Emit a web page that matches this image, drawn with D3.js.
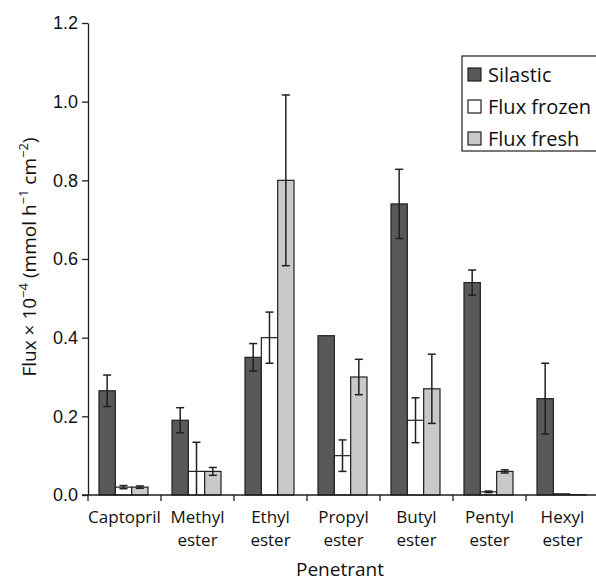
<!DOCTYPE html>
<html>
<head>
<meta charset="utf-8">
<script src="https://cdn.jsdelivr.net/npm/d3@7"></script>
<style>
  body { margin: 0; background: #fff; }
  svg { font-family: "Open Sans", "DejaVu Sans", sans-serif; }
</style>
</head>
<body>
<div id="chart"></div>
<script>
// Data
const categories = ["Captopril", "Methyl ester", "Ethyl ester", "Propyl ester", "Butyl ester", "Pentyl ester", "Hexyl ester"]
const seriesNames = ["Silastic", "Flux frozen", "Flux fresh"]
const silastic    = [0.265, 0.19, 0.35, 0.405, 0.74, 0.54, 0.245]
const silasticErr = [0.04, 0.032, 0.035, 0, 0.088, 0.032, 0.09]
const frozen      = [0.02, 0.06, 0.40, 0.10, 0.19, 0.008, 0.003]
const frozenErr   = [0.004, 0.074, 0.065, 0.04, 0.057, 0.002, 0]
const fresh       = [0.02, 0.06, 0.80, 0.30, 0.27, 0.06, 0.001]
const freshErr    = [0.003, 0.01, 0.217, 0.045, 0.088, 0.004, 0]
const yTicks = [0, 0.2, 0.4, 0.6, 0.8, 1.0, 1.2]

const values = [silastic, frozen, fresh]
const errors = [silasticErr, frozenErr, freshErr]
const colors = ["#58595b", "#ffffff", "#c8c9cb"]
const ink = "#231f20"

var width = 596, height = 582
var margin = {left: 88, top: 23, bottom: 87}
var plotRight = 599

var svg = d3.select("#chart").append("svg")
    .attr("width", width)
    .attr("height", height)

var x = d3.scaleBand()
    .domain(categories)
    .range([margin.left, plotRight])

var xs = d3.scaleBand()
    .domain(seriesNames)
    .range([11, 60])

var y = d3.scaleLinear()
    .domain([0, 1.2])
    .range([height - margin.bottom, margin.top])

// flatten for drawing
var rows = []
categories.forEach((c, i) => {
  seriesNames.forEach((s, j) => {
    rows.push({cat: c, series: s, j: j, v: values[j][i], e: errors[j][i]})
  })
})

// Bars
svg.append("g").selectAll("rect")
  .data(rows)
  .enter().append("rect")
    .attr("x", d => x(d.cat) + xs(d.series))
    .attr("width", xs.bandwidth())
    .attr("y", d => y(d.v))
    .attr("height", d => y(0) - y(d.v))
    .attr("fill", d => colors[d.j])
    .attr("stroke", ink)
    .attr("stroke-width", 1.2)

// Error bars
var eb = svg.append("g").selectAll("g")
  .data(rows.filter(d => d.e > 0))
  .enter().append("g")
    .attr("stroke", ink)
    .attr("stroke-width", 1.5)

var cx = d => x(d.cat) + xs(d.series) + xs.bandwidth() / 2
eb.append("line")
    .attr("x1", cx).attr("x2", cx)
    .attr("y1", d => y(d.v + d.e))
    .attr("y2", d => y(Math.max(0, d.v - d.e)))
eb.append("line")
    .attr("x1", d => cx(d) - 4).attr("x2", d => cx(d) + 4)
    .attr("y1", d => y(d.v + d.e)).attr("y2", d => y(d.v + d.e))
eb.filter(d => d.v - d.e > 0).append("line")
    .attr("x1", d => cx(d) - 4).attr("x2", d => cx(d) + 4)
    .attr("y1", d => y(d.v - d.e)).attr("y2", d => y(d.v - d.e))

// Y axis
var yAxis = svg.append("g")
    .attr("transform", "translate(" + margin.left + ",0)")
    .call(d3.axisLeft(y).tickValues(yTicks).tickFormat(d3.format(".1f")).tickSize(6).tickSizeOuter(0))
yAxis.select(".domain").attr("stroke", ink).attr("stroke-width", 1.3)
yAxis.selectAll(".tick line").attr("stroke", ink).attr("stroke-width", 1.3)
yAxis.selectAll("text")
    .attr("font-size", "18px")
    .attr("fill", "#111")
    .attr("x", -10)

// X axis: ticks at category boundaries
var xg = svg.append("g")
    .attr("transform", "translate(0," + y(0) + ")")
xg.append("line")
    .attr("x1", margin.left - 6).attr("x2", plotRight)
    .attr("stroke", ink).attr("stroke-width", 1.3)
xg.selectAll(".bt")
  .data(categories)
  .enter().append("line")
    .attr("class", "bt")
    .attr("x1", d => x(d)).attr("x2", d => x(d))
    .attr("y1", 0).attr("y2", 6)
    .attr("stroke", ink).attr("stroke-width", 1.3)

var lab = xg.selectAll(".cl")
  .data(categories)
  .enter().append("text")
    .attr("class", "cl")
    .attr("text-anchor", "middle")
    .attr("font-size", "17px")
    .attr("fill", "#111")
lab.selectAll("tspan")
  .data(d => d.split(" ").map(w => ({w: w, c: d})))
  .enter().append("tspan")
    .attr("x", d => x(d.c) + x.bandwidth() / 2)
    .attr("y", (d, i) => 28 + i * 23)
    .text(d => d.w)

// Axis titles
svg.append("text")
    .attr("x", 340)
    .attr("y", 576)
    .attr("text-anchor", "middle")
    .attr("font-size", "19px")
    .attr("fill", "#111")
    .text("Penetrant")

var yt = svg.append("text")
    .attr("transform", "translate(36," + 257 + ") rotate(-90)")
    .attr("text-anchor", "middle")
    .attr("font-size", "19px")
    .attr("fill", "#111")
yt.append("tspan").text("Flux × 10")
yt.append("tspan").attr("dy", -8).attr("font-size", "13px").text("−4")
yt.append("tspan").attr("dy", 8).text(" (mmol h")
yt.append("tspan").attr("dy", -8).attr("font-size", "13px").text("−1")
yt.append("tspan").attr("dy", 8).text(" cm")
yt.append("tspan").attr("dy", -8).attr("font-size", "13px").text("−2")
yt.append("tspan").attr("dy", 8).text(")")

// Legend
var lg = svg.append("g").attr("transform", "translate(462,56)")
lg.append("rect")
    .attr("width", 150).attr("height", 95)
    .attr("fill", "#fff").attr("stroke", ink).attr("stroke-width", 1.2)
var li = lg.selectAll(".li")
  .data(seriesNames)
  .enter().append("g")
    .attr("transform", (d, i) => "translate(6," + (18 + i * 32) + ")")
li.append("rect")
    .attr("x", 0).attr("y", -6)
    .attr("width", 13).attr("height", 13)
    .attr("fill", (d, i) => colors[i])
    .attr("stroke", ink).attr("stroke-width", 1.2)
li.append("text")
    .attr("x", 20).attr("y", 8)
    .attr("font-size", "20px")
    .attr("fill", "#111")
    .text(d => d)
</script>
</body>
</html>
